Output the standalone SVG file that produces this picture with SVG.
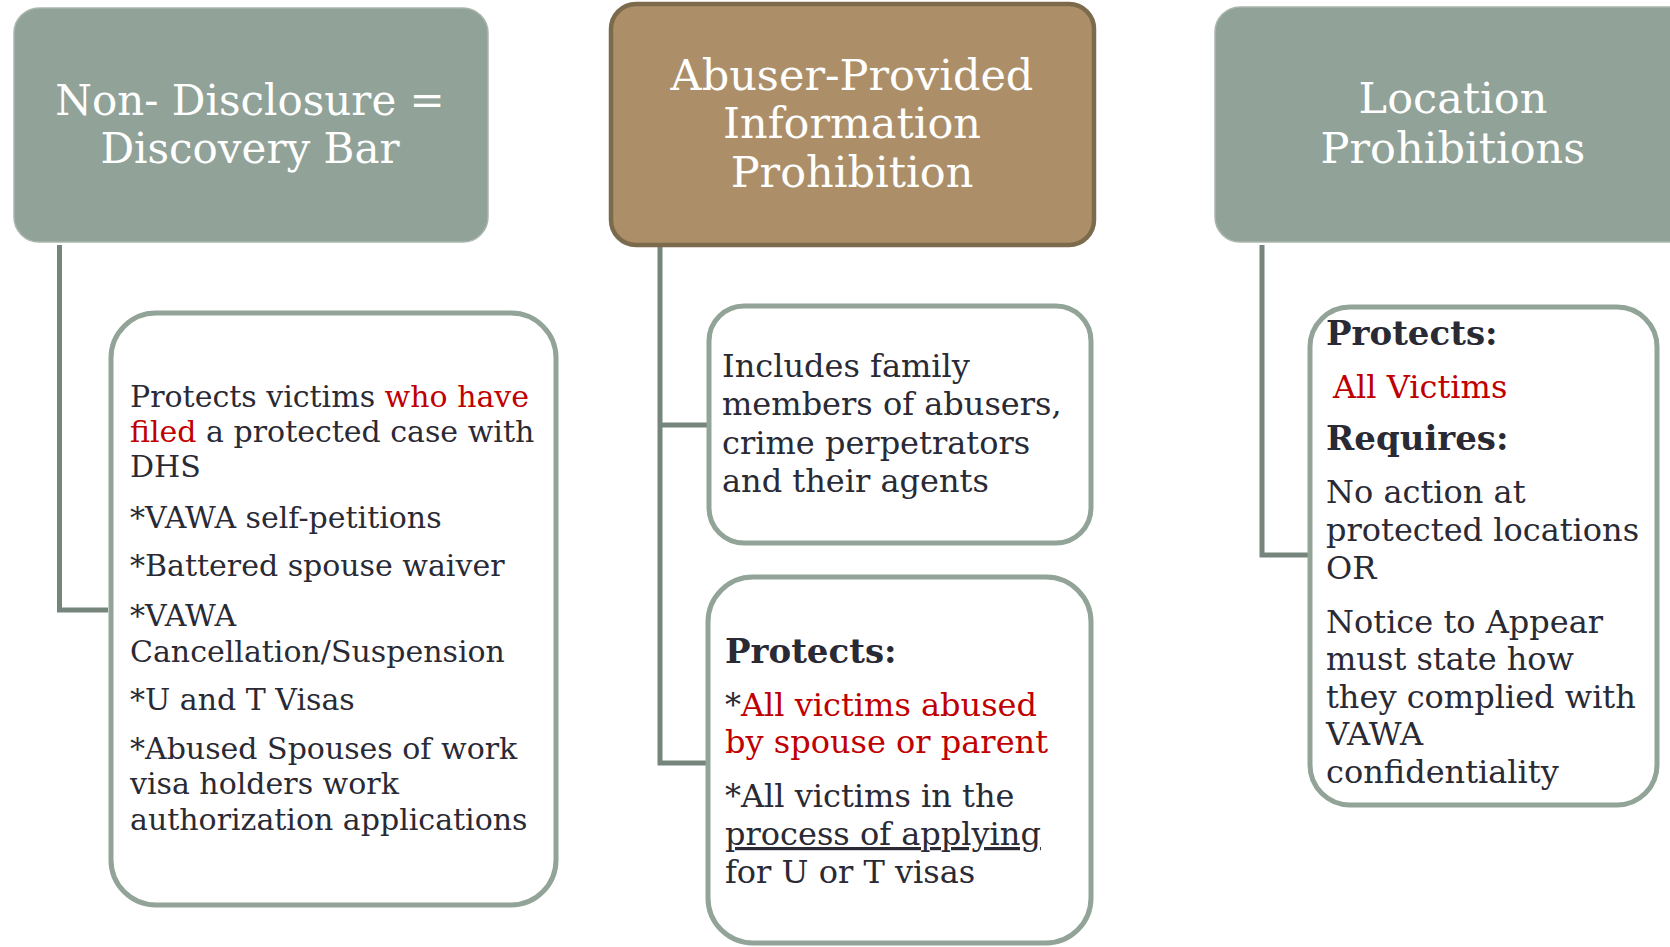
<svg xmlns="http://www.w3.org/2000/svg" width="1670" height="947" viewBox="0 0 1670 947">
<style>
.hdr{fill:#91a298;stroke:#a9b6ad;stroke-width:1.5}
.hdr2{fill:#ac8f68;stroke:#7c6a4c;stroke-width:4.5}
.box{fill:#ffffff;stroke:#92a398;stroke-width:5}
.conn{fill:none;stroke:#76857c;stroke-width:5}
.ht{font-family:"DejaVu Serif","Liberation Serif",serif;font-size:43px;fill:#ffffff;text-anchor:middle}
.bt{font-family:"DejaVu Serif","Liberation Serif",serif;font-size:32px;fill:#2a2a35}
.s30{font-size:30px}
.b{font-weight:bold;font-size:34px}
.red{fill:#c00000}
</style>
<rect width="1670" height="947" fill="#ffffff"/>
<g id="connectors">
<path class="conn" d="M59.5 245 V610 H108"/>
<path class="conn" d="M660 247 V425 H707 M660 425 V763 H706"/>
<path class="conn" d="M1262 245 V555 H1308"/>
</g>
<g id="h1">
<rect class="hdr" x="14" y="8" width="474" height="234" rx="25"/>
<text class="ht" x="250" y="115" style="font-size:42px">Non- Disclosure =</text>
<text class="ht" x="250" y="163" style="font-size:42px">Discovery Bar</text>
</g>
<g id="h2">
<rect class="hdr2" x="611" y="4" width="483" height="241" rx="25"/>
<text class="ht" x="852" y="90">Abuser-Provided</text>
<text class="ht" x="852" y="138">Information</text>
<text class="ht" x="852" y="187">Prohibition</text>
</g>
<g id="h3">
<rect class="hdr" x="1215" y="7" width="480" height="235" rx="25"/>
<text class="ht" x="1453" y="113">Location</text>
<text class="ht" x="1453" y="163">Prohibitions</text>
</g>
<g id="b1">
<rect class="box" x="111" y="313" width="445" height="592" rx="45"/>
<text class="bt s30" x="130" y="407">Protects victims <tspan class="red">who have</tspan></text>
<text class="bt s30" x="130" y="442"><tspan class="red">filed</tspan> a protected case with</text>
<text class="bt s30" x="130" y="477">DHS</text>
<text class="bt s30" x="130" y="528">*VAWA self-petitions</text>
<text class="bt s30" x="130" y="576">*Battered spouse waiver</text>
<text class="bt s30" x="130" y="626">*VAWA</text>
<text class="bt s30" x="130" y="662">Cancellation/Suspension</text>
<text class="bt s30" x="130" y="710">*U and T Visas</text>
<text class="bt s30" x="130" y="759">*Abused Spouses of work</text>
<text class="bt s30" x="130" y="794">visa holders work</text>
<text class="bt s30" x="130" y="830">authorization applications</text>
</g>
<g id="b2a">
<rect class="box" x="709" y="306" width="382" height="237" rx="35"/>
<text class="bt" x="722" y="377">Includes family</text>
<text class="bt" x="722" y="415">members of abusers,</text>
<text class="bt" x="722" y="454">crime perpetrators</text>
<text class="bt" x="722" y="492">and their agents</text>
</g>
<g id="b2b">
<rect class="box" x="708" y="577" width="383" height="366" rx="45"/>
<text class="bt b" x="725" y="663">Protects:</text>
<text class="bt" x="725" y="716">*<tspan class="red">All victims abused</tspan></text>
<text class="bt red" x="725" y="753">by spouse or parent</text>
<text class="bt" x="725" y="807">*All victims in the</text>
<text class="bt" x="725" y="845" text-decoration="underline">process of applying</text>
<text class="bt" x="725" y="883">for U or T visas</text>
</g>
<g id="b3">
<rect class="box" x="1310" y="307" width="347" height="498" rx="40"/>
<text class="bt b" x="1326" y="345">Protects:</text>
<text class="bt red" x="1333" y="398">All Victims</text>
<text class="bt b" x="1326" y="450">Requires:</text>
<text class="bt" x="1326" y="503">No action at</text>
<text class="bt" x="1326" y="541">protected locations</text>
<text class="bt" x="1326" y="579">OR</text>
<text class="bt" x="1326" y="633">Notice to Appear</text>
<text class="bt" x="1326" y="670">must state how</text>
<text class="bt" x="1326" y="708">they complied with</text>
<text class="bt" x="1326" y="745">VAWA</text>
<text class="bt" x="1326" y="783">confidentiality</text>
</g>
</svg>
